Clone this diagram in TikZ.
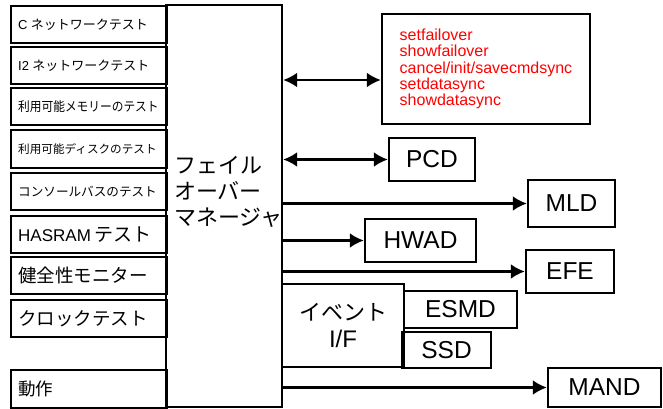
\documentclass[tikz,border=0pt]{standalone}
\usepackage{fontspec}
\setmainfont{Liberation Sans}
\newfontfamily\jp{Noto Sans CJK JP}
\usetikzlibrary{arrows.meta}

\tikzset{
  box/.style={draw,line width=2.4pt,inner sep=0pt},
  testbox/.style={box,anchor=north west,minimum height=37pt,text width=142pt,inner xsep=7pt,align=left},
  unit/.style={box,font=\fontsize{24.5}{26}\selectfont},
}

\begin{document}
\begin{tikzpicture}[x=1pt,y=-1pt,>={Latex[length=14pt,width=15pt]},line width=2.4pt]
\useasboundingbox (0,0) rectangle (663,409);
% tests on the left
\node[testbox] (cnet) at (10,5) {\fontsize{13}{15}\selectfont C {\jp ネットワークテスト}};
\node[testbox] (inet) at (10,46) {\fontsize{13}{15}\selectfont I2 {\jp ネットワークテスト}};
\node[testbox] (mem) at (10,87) {\jp\fontsize{13}{15}\selectfont\scalebox{0.9}[1]{利用可能メモリーのテスト}};
\node[testbox,minimum height=38pt] (disk) at (10,129) {\jp\fontsize{11.6}{14}\selectfont 利用可能ディスクのテスト};
\node[testbox] (bus) at (10,172) {\jp\fontsize{12.6}{15}\selectfont コンソールバスのテスト};
\node[testbox] (ram) at (10,215) {\fontsize{17}{20}\selectfont HASRAM {\jp\fontsize{19}{20}\selectfont テスト}};
\node[testbox] (mon) at (10,256) {\jp\fontsize{18.5}{20}\selectfont 健全性モニター};
\node[testbox] (clk) at (10,299) {\jp\fontsize{18.5}{20}\selectfont クロックテスト};
\node[testbox,minimum height=38pt] (op) at (10,369) {\jp\fontsize{17.5}{20}\selectfont 動作};
% failover manager
\node[box,minimum width=116pt,minimum height=402pt] (mgr) at (224,206) {};
\node[anchor=west,align=left,inner sep=0pt,font=\jp\fontsize{22}{26}\selectfont] (mgrtext) at (173,192) {フェイル\\オーバー\\マネージャ};
% commands
\node[box,minimum width=208pt,minimum height=110pt,align=left,text=red,font=\fontsize{16}{16.3}\selectfont] (cmds) at (486,69)
  {setfailover\\showfailover\\cancel/init/savecmdsync\\setdatasync\\showdatasync};
% daemons
\node[unit,minimum width=86pt,minimum height=43pt] (pcd) at (432,159.5) {PCD};
\node[unit,minimum width=87pt,minimum height=47pt] (mld) at (571.5,203.5) {MLD};
\node[unit,minimum width=111pt,minimum height=43pt] (hwad) at (420.5,240.5) {HWAD};
\node[unit,minimum width=88pt,minimum height=43pt] (efe) at (570,271.5) {EFE};
\node[box,minimum width=122pt,minimum height=83pt,align=center,font=\fontsize{24}{27}\selectfont] (evt) at (343,325.5) {{\jp\fontsize{22}{27}\selectfont イベント}\\I/F};
\node[unit,minimum width=113pt,minimum height=37pt] (esmd) at (460.5,309.5) {ESMD};
\node[unit,minimum width=89pt,minimum height=36pt] (ssd) at (446.5,350) {SSD};
\node[unit,minimum width=113pt,minimum height=39pt] (mand) at (604.5,387.5) {MAND};
% connectors
\coordinate (cmdin) at ([yshift=-11pt]cmds.west);
\draw[<->] (mgr.east |- cmdin) -- (cmdin);
\draw[<->] (mgr.east |- pcd.west) -- (pcd.west);
\draw[->] (mgr.east |- mld.west) -- (mld.west);
\draw[->] (mgr.east |- hwad.west) -- (hwad.west);
\draw[->] (mgr.east |- efe.west) -- (efe.west);
\draw[->] (mgr.east |- mand.west) -- (mand.west);
\end{tikzpicture}
\end{document}
